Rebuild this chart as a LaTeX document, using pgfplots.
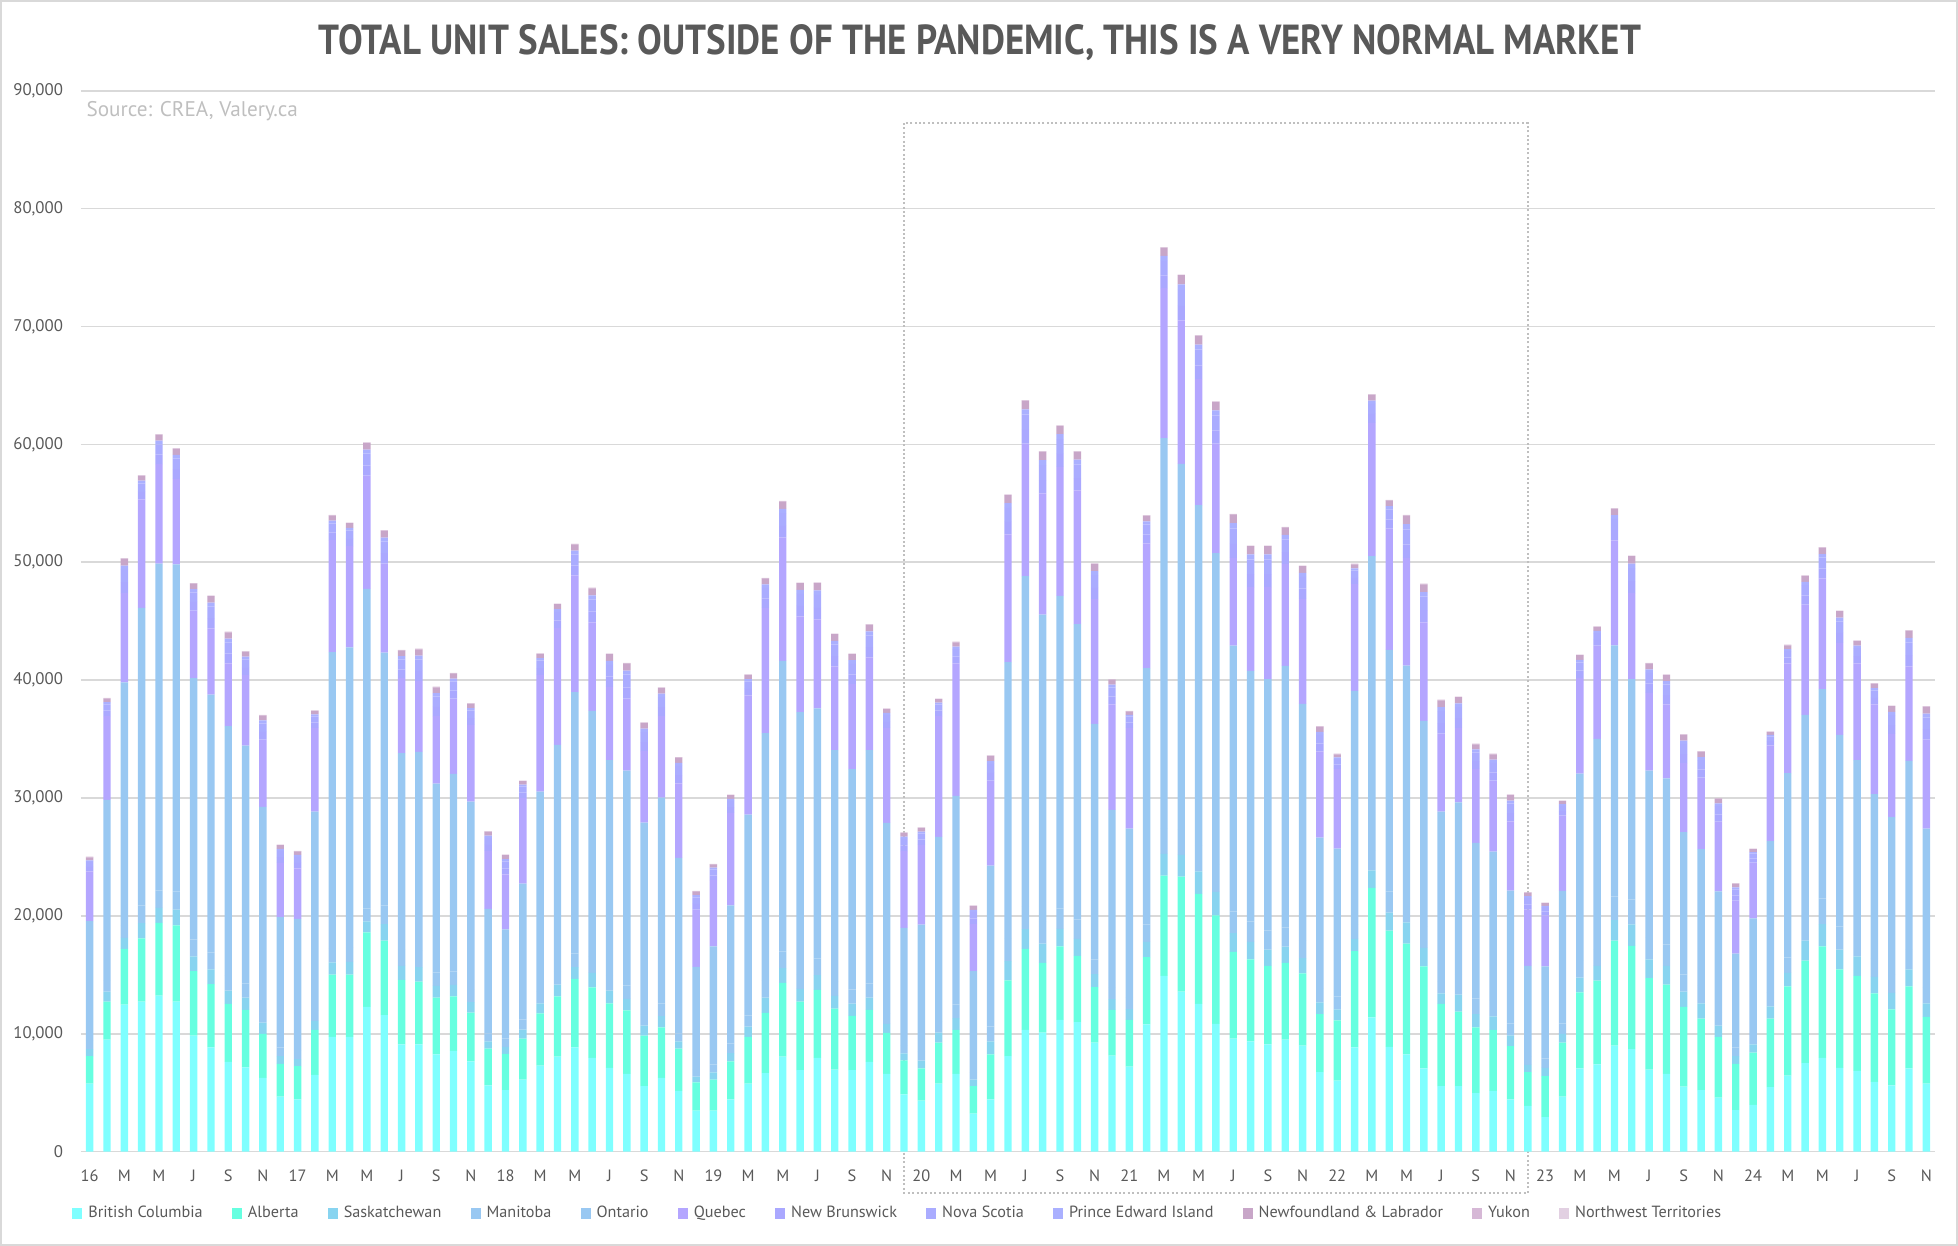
\documentclass[border=0pt]{standalone}
\usepackage{pgfplots}
\pgfplotsset{compat=1.18}
\usepackage{pgfplotstable}
\usepackage{fontspec}
\setmainfont{PT Sans}
\definecolor{cBC}{HTML}{7FFFFF}
\definecolor{cAB}{HTML}{66FFE0}
\definecolor{cSK}{HTML}{88D4F0}
\definecolor{cMB}{HTML}{99C8F2}
\definecolor{cON}{HTML}{99C8F2}
\definecolor{cQC}{HTML}{B4A6FF}
\definecolor{cNB}{HTML}{AAA8FF}
\definecolor{cNS}{HTML}{AAACFF}
\definecolor{cPE}{HTML}{AAB0FF}
\definecolor{cNL}{HTML}{C8A6C8}
\definecolor{cYT}{HTML}{D6B8D6}
\definecolor{cNT}{HTML}{E2D0E2}
\definecolor{labelgray}{HTML}{595959}
\definecolor{gridgray}{HTML}{D9D9D9}
\definecolor{srcgray}{HTML}{BFBFBF}

\pgfplotstableread{
x BC AB SK MB ON QC NB NS PE NL YT NT
0 5770 2340 600 690 10150 4230 380 420 140 250 30 20
1 9500 3230 850 980 15280 7110 470 530 180 310 30 20
2 12480 4720 940 1080 20600 7560 930 1050 350 600 30 20
3 12730 5370 1290 1480 25270 9200 630 710 240 410 30 20
4 13230 6170 1290 1480 27710 8450 790 890 300 510 30 20
5 12730 6460 1340 1540 27750 7260 810 910 300 520 30 20
6 9850 5470 1240 1430 22190 5720 730 820 270 470 30 20
7 8850 5370 1240 1430 21890 5620 870 980 320 560 30 20
8 7610 4920 1140 1310 21120 5320 840 950 310 540 30 20
9 7160 4870 1040 1200 20180 5970 630 710 240 410 30 20
10 6270 3730 940 1080 17220 5720 650 730 240 420 30 20
11 4670 2780 650 750 11040 4620 470 530 180 310 30 20
12 4430 2830 600 690 11200 4280 460 510 170 300 30 20
13 6510 3830 750 860 16890 7110 460 510 170 300 30 20
14 9750 5270 1040 1200 25110 9500 660 750 250 430 30 20
15 9750 5270 1090 1250 25410 8600 620 690 230 400 30 20
16 12280 6320 940 1080 27120 9600 880 990 340 570 30 20
17 11590 6320 1390 1600 21430 7560 880 990 340 570 30 20
18 9100 5470 1190 1370 16680 6370 740 840 280 480 30 20
19 9100 5320 1240 1430 16820 6020 860 960 320 550 30 20
20 8260 4820 990 1140 16020 5720 780 870 290 500 30 20
21 8550 4620 990 1140 16760 6370 680 770 250 440 30 20
22 7660 4130 900 1030 15980 6510 570 640 210 370 30 20
23 5620 3130 600 690 10550 4920 520 590 190 340 30 20
24 5220 3080 600 690 9260 4670 520 590 190 340 30 20
25 6120 3480 750 860 11520 7260 460 510 170 300 30 20
26 7310 4430 850 970 16980 9900 570 640 210 370 30 20
27 8060 5120 990 1140 19200 9900 650 730 240 420 30 20
28 8850 5820 990 1140 22180 9900 840 950 310 540 30 20
29 7960 5970 1240 1430 20800 7510 920 1030 340 590 30 20
30 7110 5470 1090 1250 18290 6220 880 990 340 570 30 20
31 6610 5370 990 1140 18210 6120 950 1070 350 610 30 20
32 5570 4280 850 970 16240 6070 760 860 280 490 30 20
33 6270 4280 940 1080 17470 6910 760 860 280 490 30 20
34 5170 3580 600 690 14880 6320 700 780 260 450 30 20
35 3480 2390 500 580 8720 4870 490 550 180 320 30 20
36 3480 2640 600 690 10000 5620 420 480 160 280 30 20
37 4430 3230 700 800 11730 7860 470 530 180 310 30 20
38 5770 3980 850 970 17030 10100 550 620 210 360 30 20
39 6660 5120 1290 1480 20950 10640 790 890 300 510 30 20
40 8060 6270 1240 1430 24630 10490 960 1080 370 620 30 20
41 6910 5820 1090 1250 22220 8110 900 1010 340 580 30 20
42 7960 5770 1240 1430 21200 7560 980 1100 370 630 30 20
43 6960 5170 1090 1250 19590 7110 870 980 320 560 30 20
44 6910 4620 1040 1200 18690 7210 810 910 300 520 30 20
45 7610 4430 1040 1200 19790 7860 880 990 340 570 30 20
46 6610 3480 750 860 16200 8060 500 570 190 330 30 20
47 4870 2880 600 690 9950 6510 490 550 180 320 30 20
48 4330 2740 650 750 10790 6760 460 510 170 300 30 20
49 5770 3480 850 970 15640 10240 460 510 170 300 30 20
50 6610 3730 990 1140 17710 11240 570 640 210 370 30 20
51 3230 2340 550 630 8570 3980 490 550 180 320 30 20
52 4430 3830 1090 1250 13670 7210 660 750 250 430 30 20
53 8110 6420 1640 1890 23470 10840 1060 1190 400 680 30 20
54 10340 6860 1690 1940 28000 11240 1160 1300 430 740 30 20
55 10100 5920 1640 1890 26010 10290 1120 1260 430 720 30 20
56 11190 6220 1490 1710 26540 10940 1110 1250 410 710 30 20
57 10990 5620 1440 1660 25050 11340 1040 1170 400 670 30 20
58 9250 4720 1090 1250 19980 10590 950 1070 350 610 30 20
59 8160 3880 900 1030 15030 8950 660 750 250 430 30 20
60 7210 3980 900 1030 14290 8550 440 500 160 290 30 20
61 10790 5720 1290 1480 21740 10590 740 840 280 480 30 20
62 14920 8500 1840 2120 33140 12730 1090 1230 410 700 30 20
63 13580 9750 1840 2120 31050 12180 1220 1370 460 780 30 20
64 12530 9350 1890 2170 28910 10690 1170 1320 440 750 30 20
65 10840 9200 1990 2290 26450 9300 1120 1260 430 720 30 20
66 9600 7360 1590 1830 22540 7460 1170 1320 440 750 30 20
67 9350 6960 1490 1710 21270 7110 1110 1250 410 710 30 20
68 9100 6660 1390 1600 21330 7810 1110 1250 410 710 30 20
69 9500 6510 1390 1600 22220 8650 980 1100 370 630 30 20
70 9000 6120 1290 1480 20100 8900 880 990 340 570 30 20
71 6760 4920 990 1140 12830 7310 660 750 250 430 30 20
72 6020 5120 940 1080 12550 6760 390 440 150 260 30 20
73 8850 8160 1040 1200 19840 9050 540 600 200 350 30 20
74 11390 10990 1490 1710 24950 11290 760 860 280 490 30 20
75 8900 9850 1540 1770 20510 10290 760 860 280 490 30 20
76 8260 9400 1790 2060 19720 9150 1140 1280 430 730 30 20
77 7060 8650 1590 1830 17420 8350 1030 1160 380 660 30 20
78 5570 6960 900 1030 14390 6610 900 1010 340 580 30 20
79 5570 6320 1440 1660 14650 6320 820 930 310 530 30 20
80 4970 5570 1140 1310 13210 6270 660 750 250 430 30 20
81 5170 5170 1140 1310 12660 6020 710 800 270 460 30 20
82 4430 4530 900 1030 11250 5870 710 800 270 460 30 20
83 3880 2880 600 690 7710 4770 460 510 170 300 30 20
84 2930 3480 700 800 7800 4330 330 370 120 220 30 20
85 4670 4580 750 860 11270 6370 390 440 150 260 30 20
86 7060 6460 1240 1430 15880 8110 620 690 230 400 30 20
87 7410 7110 1240 1430 17820 7910 500 570 190 330 30 20
88 9000 8900 1740 2000 21320 8900 860 960 320 550 30 20
89 8700 8750 1840 2120 18670 7310 1000 1120 370 640 30 20
90 6960 7760 1590 1830 14180 6610 790 890 300 510 30 20
91 6610 7560 1590 1830 14080 6270 790 890 300 510 30 20
92 5520 6760 1290 1480 12050 5870 760 860 280 490 30 20
93 5220 6070 1290 1480 11600 6070 700 780 260 450 30 20
94 4580 5170 940 1080 10310 5920 620 690 230 400 30 20
95 3530 3930 650 750 7950 4480 460 510 170 300 30 20
96 3980 4430 700 800 9890 4720 360 410 130 240 30 20
97 5470 5820 1040 1200 12820 8110 360 410 130 240 30 20
98 6460 7560 1140 1310 15650 9300 490 550 180 320 30 20
99 7510 8700 1690 1940 17210 9350 780 870 290 500 30 20
100 7960 9450 1890 2170 17770 9400 820 930 310 530 30 20
101 7110 8350 1690 1940 16260 7810 860 960 320 550 30 20
102 6860 8060 1640 1890 14770 8210 600 680 220 390 30 20
103 5920 7510 1390 1600 13920 7610 550 620 210 360 30 20
104 5620 6460 1390 1600 13320 7060 740 840 280 480 30 20
105 7060 6960 1440 1660 16040 8010 960 1080 370 620 30 20
106 5770 5670 1140 1310 13510 7560 880 990 340 570 30 20
}\datatable

\pgfplotsset{
  legsq/.style={legend image code/.code={\fill[##1] (0pt,-2.8pt) rectangle (5pt,2.8pt);}},
}

\begin{document}
\begin{tikzpicture}
\path[use as bounding box] (-40.5pt,-47.15pt) rectangle (938.5pt,575.85pt);
\draw[gridgray, line width=1.2pt] (-39.9pt,-46.55pt) rectangle (937.9pt,575.25pt);
\begin{axis}[
  at={(0,0)}, anchor=south west,
  scale only axis, width=927pt, height=530.5pt,
  xmin=-0.5, xmax=106.5, ymin=0, ymax=90000,
  ybar stacked, bar width=3.7pt,
  clip=false,
  axis line style={draw=none},
  major tick length=0pt,
  ymajorgrids, grid style={gridgray, line width=0.8pt},
  ytick={0,10000,...,90000},
  scaled y ticks=false,
  /pgf/number format/1000 sep={,},
  /pgf/number format/assume math mode=true,
  yticklabel style={font=\fontsize{8.4}{10}\selectfont, text=labelgray, xshift=-5.5pt},
  xtick={0,2,...,106},
  xticklabels={16,M,M,J,S,N,17,M,M,J,S,N,18,M,M,J,S,N,19,M,M,J,S,N,20,M,M,J,S,N,21,M,M,J,S,N,22,M,M,J,S,N,23,M,M,J,S,N,24,M,M,J,S,N},
  xticklabel style={font=\fontsize{8.2}{9}\selectfont, text=labelgray, yshift=-5.5pt},
  legend style={at={(0,0)}, anchor=west, xshift=-4.5pt, yshift=-31pt,
    draw=none, fill=none, inner sep=0pt, legend columns=-1,
    font=\fontsize{8.1}{9}\selectfont, text=labelgray,
    /tikz/every even column/.append style={column sep=12.6pt},
    /tikz/every odd column/.append style={column sep=1pt}},
]
\addplot[fill=cBC, draw=none, legsq] table[x=x,y=BC]{\datatable};
\addlegendentry{British Columbia}
\addplot[fill=cAB, draw=none, legsq] table[x=x,y=AB]{\datatable};
\addlegendentry{Alberta}
\addplot[fill=cSK, draw=none, legsq] table[x=x,y=SK]{\datatable};
\addlegendentry{Saskatchewan}
\addplot[fill=cMB, draw=none, legsq] table[x=x,y=MB]{\datatable};
\addlegendentry{Manitoba}
\addplot[fill=cON, draw=none, legsq] table[x=x,y=ON]{\datatable};
\addlegendentry{Ontario}
\addplot[fill=cQC, draw=none, legsq] table[x=x,y=QC]{\datatable};
\addlegendentry{Quebec}
\addplot[fill=cNB, draw=none, legsq] table[x=x,y=NB]{\datatable};
\addlegendentry{New Brunswick}
\addplot[fill=cNS, draw=none, legsq] table[x=x,y=NS]{\datatable};
\addlegendentry{Nova Scotia}
\addplot[fill=cPE, draw=none, legsq] table[x=x,y=PE]{\datatable};
\addlegendentry{Prince Edward Island}
\addplot[fill=cNL, draw=none, legsq] table[x=x,y=NL]{\datatable};
\addlegendentry{Newfoundland \& Labrador}
\addplot[fill=cYT, draw=none, legsq] table[x=x,y=YT]{\datatable};
\addlegendentry{Yukon}
\addplot[fill=cNT, draw=none, legsq] table[x=x,y=NT]{\datatable};
\addlegendentry{Northwest Territories}
\draw[srcgray, line width=1pt, dash pattern=on 1pt off 1.2pt] (axis cs:47,87260) rectangle (axis cs:83,-3500);
\node[anchor=west, text=srcgray, font=\fontsize{10.6}{12}\selectfont, inner sep=0pt] at (axis cs:-0.2,88300) {Source: CREA, Valery.ca};
\end{axis}
\node[text=labelgray, font=\fontsize{21}{24}\selectfont\bfseries, inner sep=0pt] at (449.5pt,554.3pt) {\scalebox{0.88}[1]{TOTAL UNIT SALES: OUTSIDE OF THE PANDEMIC, THIS IS A VERY NORMAL MARKET}};
\end{tikzpicture}
\end{document}
